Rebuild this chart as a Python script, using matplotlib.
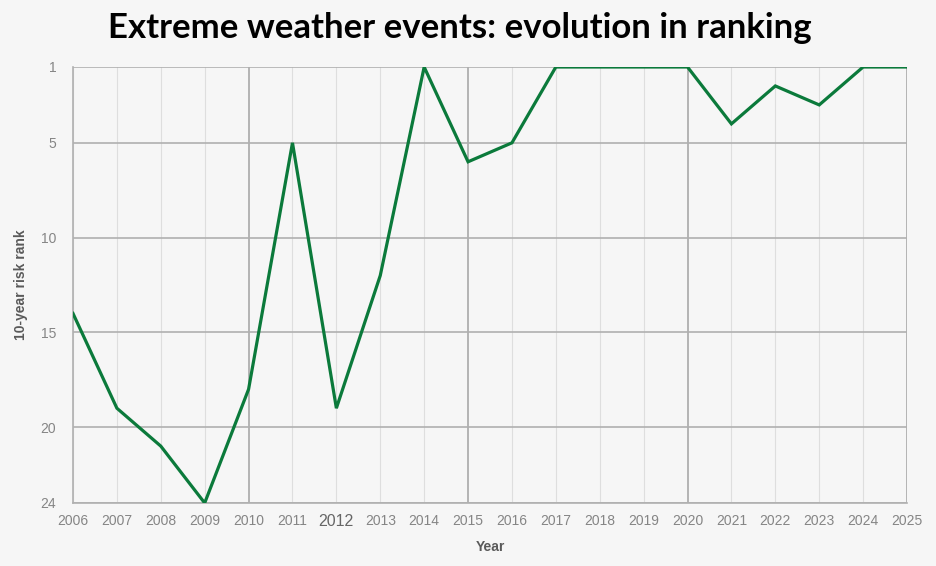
import matplotlib
matplotlib.use("Agg")
import matplotlib.pyplot as plt

years = list(range(2006, 2026))
ranks = [14, 19, 21, 24, 18, 5, 19, 12, 1, 6, 5, 1, 1, 1, 1, 4, 2, 3, 1, 1]
y_ticks = [1, 5, 10, 15, 20, 24]
title = "Extreme weather events: evolution in ranking"

bg = "#f6f6f6"
fig = plt.figure(figsize=(9.37, 5.66), dpi=100, facecolor=bg)
ax = fig.add_axes([73/937, 1-503/566, (907-73)/937, (503-67)/566], facecolor=bg)

ax.set_xlim(2006, 2025)
ax.set_ylim(24, 1)

# gridlines
for yr in years:
    major = (yr % 5 == 0)
    ax.axvline(yr, color="#a8a8a8" if major else "#dedede", lw=1.2 if major else 0.8, zorder=1)
for t in y_ticks:
    ax.axhline(t, color="#b0b0b0", lw=1.2, zorder=1)

ax.plot(years, ranks, color="#0b7a3b", lw=2.3, zorder=3, solid_joinstyle="miter")

for s in ["top", "right"]:
    ax.spines[s].set_visible(False)
for s in ["left", "bottom"]:
    ax.spines[s].set_color("#b0b0b0")
    ax.spines[s].set_linewidth(1.2)

ax.set_xticks(years)
ax.set_xticklabels([str(y) for y in years])
ax.set_yticks(y_ticks)
ax.tick_params(axis="both", length=0, colors="#858585", labelsize=10)
ax.tick_params(axis="x", pad=8)
ax.tick_params(axis="y", pad=12)
for lbl in ax.get_xticklabels():
    lbl.set_family("Liberation Sans")
    if lbl.get_text() == "2012":
        lbl.set_fontsize(11.5)
        lbl.set_color("#666666")
for lbl in ax.get_yticklabels():
    lbl.set_family("Liberation Sans")

ax.set_xlabel("Year", fontsize=10, fontweight="bold", color="#5a5a5a", family="Liberation Sans", labelpad=8)
ax.set_ylabel("10-year risk rank", fontsize=10, fontweight="bold", color="#5a5a5a", family="Liberation Sans", labelpad=9)

fig.text(460/937, 1-28/566, title, ha="center", va="center", fontsize=25, fontweight="bold", family="Lato", color="#000000")

fig.savefig("out.png", dpi=100, facecolor=bg)
